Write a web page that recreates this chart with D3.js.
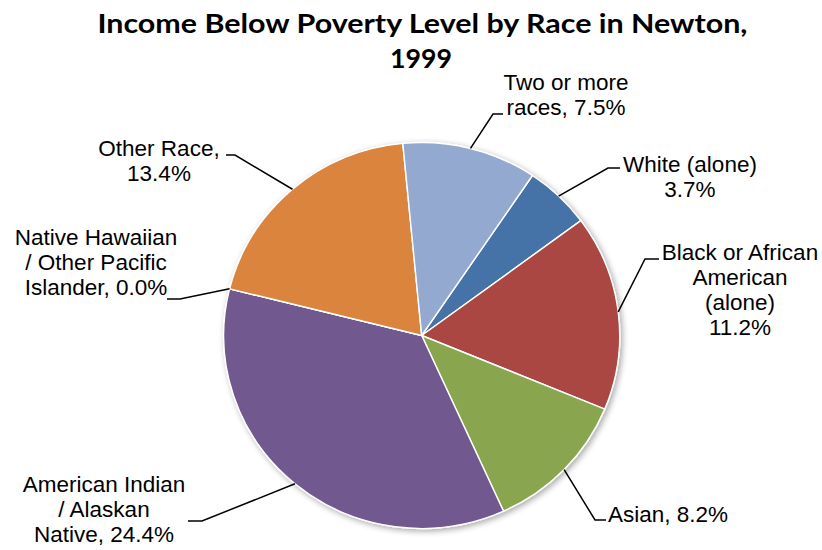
<!DOCTYPE html>
<html>
<head>
<meta charset="utf-8">
<script src="https://cdn.jsdelivr.net/npm/d3@7"></script>
<style>
  html, body { margin: 0; padding: 0; background: #fff; }
  svg { display: block; }
</style>
</head>
<body>
<div id="chart"></div>
<script>
// Income below poverty level by race, Newton, 1999 (percent of each group)
const categories = [
  "White (alone)",
  "Black or African American (alone)",
  "Asian",
  "American Indian / Alaskan Native",
  "Native Hawaiian / Other Pacific Islander",
  "Other Race",
  "Two or more races"
];
const values = [3.7, 11.2, 8.2, 24.4, 0.0, 13.4, 7.5];
const colors = ["#4572A7", "#AA4643", "#89A54E", "#71588F", "#4198AF", "#DB843D", "#93A9CF"];

// Label text lines for each slice (value text filled in from `values`)
const labelLines = [
  v => ["White (alone)", v],
  v => ["Black or African", "American", "(alone)", v],
  v => ["Asian, " + v],
  v => ["American Indian", "/ Alaskan", "Native, " + v],
  v => ["Native Hawaiian", "/ Other Pacific", "Islander, " + v],
  v => ["Other Race,", v],
  v => ["Two or more", "races, " + v]
];

// Label placement: text anchor x, first baseline y, alignment, elbow point and end of leader
const labelLayout = [
  { x: 690, y: 172, anchor: "middle", elbow: [608, 168], end: [620, 168] },
  { x: 740, y: 260, anchor: "middle", elbow: [645, 259], end: [659, 259] },
  { x: 608, y: 522, anchor: "start",  elbow: [595, 520], end: [606, 520] },
  { x: 104, y: 492, anchor: "middle", elbow: [202, 521], end: [188, 521] },
  { x: 96,  y: 245, anchor: "middle", elbow: [180, 299], end: [167, 299] },
  { x: 159, y: 156, anchor: "middle", elbow: [235, 155], end: [226, 155] },
  { x: 566, y: 90,  anchor: "middle", elbow: [493, 114], end: [503, 114] }
];

const W = 822, H = 550;
const cx = 421.7, cy = 335.5, R = 193, sx = 1.026;
const startDeg = 34;

const svg = d3.select("#chart").append("svg")
  .attr("width", W).attr("height", H);

const defs = svg.append("defs");
const shadow = defs.append("filter").attr("id", "pieShadow")
  .attr("x", "-20%").attr("y", "-20%").attr("width", "140%").attr("height", "140%");
shadow.append("feGaussianBlur").attr("in", "SourceAlpha").attr("stdDeviation", 3).attr("result", "blur");
shadow.append("feOffset").attr("in", "blur").attr("dx", 1.5).attr("dy", 1.5).attr("result", "off");
shadow.append("feComponentTransfer").attr("in", "off").attr("result", "soft")
  .append("feFuncA").attr("type", "linear").attr("slope", 0.35);
const merge = shadow.append("feMerge");
merge.append("feMergeNode").attr("in", "soft");
merge.append("feMergeNode").attr("in", "SourceGraphic");

// Title
const title = svg.append("text")
  .attr("text-anchor", "middle")
  .style("font-family", "Lato, 'Open Sans', sans-serif")
  .style("font-weight", "bold").style("font-size", "26px")
  .attr("fill", "#000");
title.append("tspan").attr("x", 422.5).attr("y", 33)
  .attr("textLength", 650).attr("lengthAdjust", "spacingAndGlyphs")
  .text("Income Below Poverty Level by Race in Newton,");
title.append("tspan").attr("x", 421).attr("y", 68)
  .attr("textLength", 62).attr("lengthAdjust", "spacingAndGlyphs")
  .text("1999");

const start = startDeg * Math.PI / 180;
const pie = d3.pie().sort(null).value(d => d)
  .startAngle(start).endAngle(start + 2 * Math.PI);
const arcs = pie(values);
const arc = d3.arc().innerRadius(0).outerRadius(R);

const g = svg.append("g")
  .attr("transform", `translate(${cx},${cy}) scale(${sx},1)`);

const slices = g.append("g").attr("filter", "url(#pieShadow)");
slices.selectAll("path").data(arcs).join("path")
  .attr("d", arc)
  .attr("fill", (d, i) => colors[i])
  .attr("stroke", "#fff")
  .attr("stroke-width", 1.4)
  .attr("stroke-linejoin", "round");

// Leader lines from slice edge at mid-angle
const edgePoint = d => {
  const a = (d.startAngle + d.endAngle) / 2;
  return [cx + R * sx * Math.sin(a), cy - R * Math.cos(a)];
};

const fmt = v => v.toFixed(1) + "%";

const labels = svg.append("g")
  .style("font-family", "'Liberation Sans', Arial, sans-serif")
  .style("font-size", "22.5px").attr("fill", "#000");

arcs.forEach((d, i) => {
  const L = labelLayout[i];
  const p = edgePoint(d);
  svg.append("polyline")
    .attr("points", [p, L.elbow, L.end].map(q => q.join(",")).join(" "))
    .attr("fill", "none").attr("stroke", "#000").attr("stroke-width", 1.5);
  const t = labels.append("text").attr("text-anchor", L.anchor);
  labelLines[i](fmt(d.data)).forEach((line, k) => {
    t.append("tspan").attr("x", L.x).attr("y", L.y + k * 25).text(line);
  });
});
</script>
</body>
</html>
